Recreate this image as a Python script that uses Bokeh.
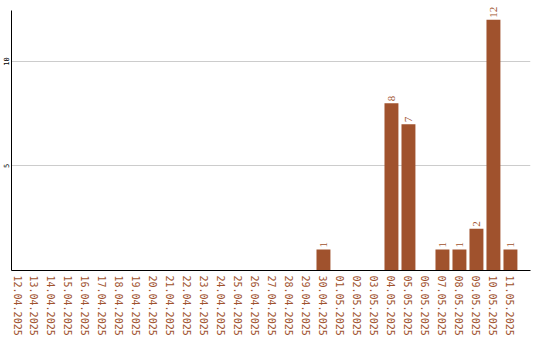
import math
from bokeh.plotting import figure
from bokeh.models import Range1d, FixedTicker, ColumnDataSource, LabelSet
from bokeh.embed import file_html
from bokeh.resources import INLINE

# Daily counts, 12.04.2025 – 11.05.2025
dates = [
    "12.04.2025", "13.04.2025", "14.04.2025", "15.04.2025", "16.04.2025",
    "17.04.2025", "18.04.2025", "19.04.2025", "20.04.2025", "21.04.2025",
    "22.04.2025", "23.04.2025", "24.04.2025", "25.04.2025", "26.04.2025",
    "27.04.2025", "28.04.2025", "29.04.2025", "30.04.2025", "01.05.2025",
    "02.05.2025", "03.05.2025", "04.05.2025", "05.05.2025", "06.05.2025",
    "07.05.2025", "08.05.2025", "09.05.2025", "10.05.2025", "11.05.2025",
]
counts = [0, 0, 0, 0, 0, 0, 0, 0, 0, 0, 0, 0, 0, 0, 0,
          0, 0, 0, 1, 0, 0, 0, 8, 7, 0, 1, 1, 2, 12, 1]
y_ticks = [5, 10]

BAR = "#a0522d"
FONT = "DejaVu Sans Mono"

idx = list(range(len(dates)))
src = ColumnDataSource(dict(x=idx, count=counts))
nz = [i for i, c in enumerate(counts) if c > 0]
lbl = ColumnDataSource(dict(
    x=nz,
    count=[counts[i] for i in nz],
    text=[str(counts[i]) for i in nz],
))

p = figure(
    width=540, height=340,
    x_range=Range1d(-0.353, 30.18),
    y_range=Range1d(0, 12.82),
    output_backend="svg", toolbar_location=None,
    min_border_left=0, min_border_right=10,
    min_border_top=2, min_border_bottom=70,
)
p.outline_line_color = None
p.background_fill_color = "white"
p.border_fill_color = "white"

p.vbar(x="x", top="count", width=0.82, source=src,
       fill_color=BAR, line_color=None)

# value labels above each non-empty bar
p.add_layout(LabelSet(
    x="x", y="count", text="text", source=lbl,
    angle=math.pi / 2, x_offset=0, y_offset=2,
    text_align="left", text_baseline="middle",
    text_color=BAR, text_font=FONT, text_font_size="11px",
))

p.xgrid.grid_line_color = None
p.ygrid.grid_line_color = "#cccccc"
p.ygrid.ticker = FixedTicker(ticks=y_ticks)

p.yaxis.ticker = FixedTicker(ticks=y_ticks)
p.yaxis.bounds = (0, 12.44)
p.yaxis.major_label_orientation = "vertical"
p.yaxis.major_label_text_font = FONT
p.yaxis.major_label_text_font_size = "7px"
p.yaxis.major_label_text_color = "black"
p.yaxis.major_label_standoff = 2
p.yaxis.major_tick_out = 0
p.yaxis.major_tick_in = 0
p.yaxis.minor_tick_out = 0
p.yaxis.minor_tick_in = 0
p.yaxis.axis_line_color = "black"

p.xaxis.ticker = FixedTicker(ticks=idx)
p.xaxis.major_label_overrides = {i: d for i, d in zip(idx, dates)}
p.xaxis.major_label_orientation = "vertical"
p.xaxis.major_label_text_font = FONT
p.xaxis.major_label_text_font_size = "10px"
p.xaxis.major_label_text_color = BAR
p.xaxis.major_label_standoff = 5
p.xaxis.major_tick_out = 0
p.xaxis.major_tick_in = 0
p.xaxis.minor_tick_out = 0
p.xaxis.minor_tick_in = 0
p.xaxis.axis_line_color = "black"

open("out.html", "w").write(file_html(p, INLINE))
